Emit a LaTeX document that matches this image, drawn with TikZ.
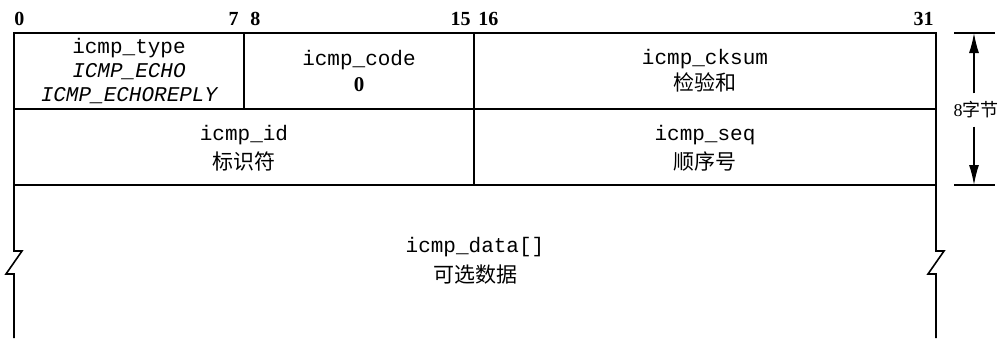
\documentclass[tikz,border=0pt]{standalone}
\usepackage{fontspec}
\setmainfont{Liberation Serif}
\setmonofont{Liberation Mono}
\newfontfamily\cjk{Noto Sans CJK SC}
\usetikzlibrary{arrows.meta}
\tikzset{
  campo/.style={align=center,inner sep=0pt,font=\fontsize{10.5}{12}\selectfont\ttfamily},
  bitnum/.style={inner sep=0pt,font=\fontsize{10}{12}\selectfont\bfseries},
  bordo/.style={line width=0.8pt},
}
\begin{document}
\begin{tikzpicture}[x=0.5pt,y=-0.5pt]
    \useasboundingbox (0,0) rectangle (1007,338);

    % numeri dei bit
    \node[bitnum,anchor=base west] (b0) at (14,25) {0};
    \node[bitnum,anchor=base east] (b7) at (239,25) {7};
    \node[bitnum,anchor=base west] (b8) at (250,25) {8};
    \node[bitnum,anchor=base east] (b15) at (471,25) {15};
    \node[bitnum,anchor=base west] (b16) at (478,25) {16};
    \node[bitnum,anchor=base east] (b31) at (934,25) {31};

    % contorno dell'intestazione, con le rotture in basso
    \draw[bordo] (14,338) -- (14,274) -- (6,274) -- (22,251) -- (14,251) -- (14,33)
        -- (936,33) -- (936,251) -- (944,251) -- (928,274) -- (936,274) -- (936,338);
    \draw[bordo] (14,109) -- (936,109);
    \draw[bordo] (14,185) -- (936,185);
    \draw[bordo] (244,33) -- (244,109);
    \draw[bordo] (474,33) -- (474,185);

    % campi
    \node[campo] (type) at (129,71) {icmp\_type\\ {\itshape ICMP\_ECHO}\\ {\itshape ICMP\_ECHOREPLY}};
    \node[campo] (code) at (359,71) {icmp\_code\\[1pt] {\rmfamily\bfseries 0}};
    \node[campo] (cksum) at (705,71) {icmp\_cksum\\[1pt] {\cjk 检验和}};
    \node[campo] (id) at (244,148) {icmp\_id\\[2.5pt] {\cjk 标识符}};
    \node[campo] (seq) at (705,148) {icmp\_seq\\[2.5pt] {\cjk 顺序号}};
    \node[campo] (data) at (475,261) {icmp\_data[]\\[3pt] {\cjk 可选数据}};

    % quota di 8 byte
    \coordinate (qa1) at (954,33);
    \coordinate (qa2) at (995,33);
    \coordinate (qb1) at (954,185);
    \coordinate (qb2) at (995,185);
    \coordinate (qtop) at (974,33);
    \coordinate (qbot) at (974,185);
    \draw[line width=0.6pt] (qa1) -- (qa2);
    \draw[line width=0.6pt] (qb1) -- (qb2);
    \node[font=\fontsize{9}{11}\selectfont,inner sep=4pt] (quota) at (976,110) {8{\cjk 字节}};
    \draw[line width=0.7pt,-{Latex[length=10pt,width=5pt]}] (quota.north -| qtop) -- (qtop);
    \draw[line width=0.7pt,-{Latex[length=10pt,width=5pt]}] (quota.south -| qbot) -- (qbot);
\end{tikzpicture}
\end{document}
